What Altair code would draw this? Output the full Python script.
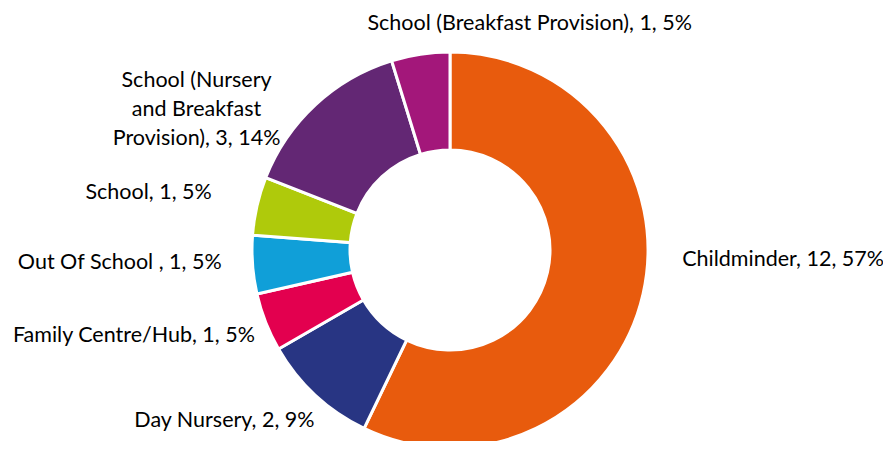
import math
import altair as alt
import pandas as pd

categories = ["Childminder", "Day Nursery", "Family Centre/Hub", "Out Of School ",
              "School", "School (Nursery and Breakfast Provision)",
              "School (Breakfast Provision)"]
display_names = ["Childminder", "Day Nursery", "Family Centre/Hub", "Out Of School ",
                 "School", "School (Nursery\nand Breakfast\nProvision)",
                 "School (Breakfast Provision)"]
counts = [12, 2, 1, 1, 1, 3, 1]
percents = [57, 9, 5, 5, 5, 14, 5]
colors = ["#E85B0D", "#283583", "#E3004F", "#109FD8", "#AFCA0B", "#632774", "#A3177A"]

df = pd.DataFrame({
    "category": categories,
    "idx": list(range(len(categories))),
    "value": counts,
    "label": [f"{d}, {n}, {p}%" for d, n, p in zip(display_names, counts, percents)],
})

CX, CY = 442, 242
FONT = "Lato"
FS = 21.5

color_scale = alt.Scale(domain=categories, range=colors)

base = alt.Chart(df)

arcs = base.mark_arc(outerRadius=198, innerRadius=100, stroke="white", strokeWidth=3).encode(
    theta=alt.Theta("value:Q", stack=True),
    order=alt.Order("idx:Q", sort="ascending"),
    color=alt.Color("category:N", scale=color_scale, legend=None),
    x=alt.value(CX),
    y=alt.value(CY),
)

label_base = base.transform_window(
    cum="sum(value)", sort=[alt.SortField("idx", order="ascending")]
).transform_joinaggregate(
    total="sum(value)"
).transform_calculate(
    mid=f"(datum.cum - datum.value / 2) / datum.total * 2 * {math.pi}"
)

# per-label placement style: (align, dx, dy)
label_style = {
    "Childminder": ("left", 8, -41),
    "Day Nursery": ("right", 21, 2),
    "Family Centre/Hub": ("right", 19, 2),
    "Out Of School ": ("right", 1, -4),
    "School": ("right", -14, -6),
    "School (Nursery and Breakfast Provision)": ("center", -97, 0),
    "School (Breakfast Provision)": ("center", 114, 1),
}

layers = [arcs]
for cat in categories:
    al, dx, dy = label_style[cat]
    t = label_base.transform_filter(alt.datum.category == cat).mark_text(
        radius=230, align=al, baseline="middle", dx=dx, dy=dy,
        font=FONT, fontSize=FS, color="#000000", lineBreak="\n", lineHeight=29,
    ).encode(
        theta=alt.Theta("mid:Q", scale=None),
        text="label:N",
        x=alt.value(CX),
        y=alt.value(CY),
    )
    layers.append(t)

chart = alt.layer(*layers).properties(
    width=875, height=433, padding=0, autosize="none"
).configure_view(stroke=None)

chart.save("out.html", embed_options={"renderer": "svg", "actions": False})
